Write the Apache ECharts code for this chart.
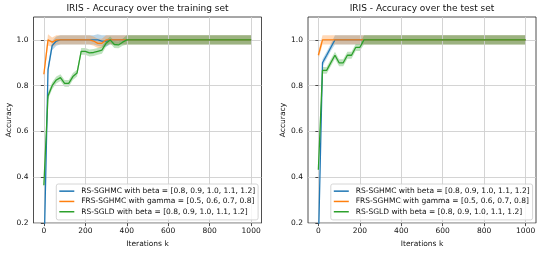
<!DOCTYPE html>
<html>
<head>
<meta charset="utf-8">
<script src="https://cdn.jsdelivr.net/npm/echarts@6/dist/echarts.min.js"></script>
<style>
html,body{margin:0;padding:0;background:#fff;}
#c{width:541px;height:253px;}
</style>
</head>
<body>
<div id="c"></div>
<script>
// ---- data ----
const iters = [0,20,40,60,80,100,120,140,160,180,200,220,240,260,280,300,320,340,360,380,400,420,440,460,480,500,520,540,560,580,600,620,640,660,680,700,720,740,760,780,800,820,840,860,880,900,920,940,960,980,1000];
const xTicks = [0,200,400,600,800,1000];
const yTicks = [0.2,0.4,0.6,0.8,1.0];
const seriesNames = ['RS-SGHMC with beta = [0.8, 0.9, 1.0, 1.1, 1.2]','FRS-SGHMC with gamma = [0.5, 0.6, 0.7, 0.8]','RS-SGLD with beta = [0.8, 0.9, 1.0, 1.1, 1.2]'];
const titles = ['IRIS - Accuracy over the training set','IRIS - Accuracy over the test set'];

// training set
const trainRS = [0.03,0.87,0.975,0.995,1.0,1.0,1.0,1.0,1.0,1.0,1.0,1.0,1.0,1.0,0.995,0.995,1.0,1.0,1.0,1.0,1.0,1.0,1.0,1.0,1.0,1.0,1.0,1.0,1.0,1.0,1.0,1.0,1.0,1.0,1.0,1.0,1.0,1.0,1.0,1.0,1.0,1.0,1.0,1.0,1.0,1.0,1.0,1.0,1.0,1.0,1.0];
const trainRSErr = [0.02,0.02,0.02,0.02,0.02,0.02,0.02,0.02,0.02,0.02,0.02,0.02,0.02,0.025,0.025,0.025,0.02,0.02,0.02,0.02,0.02,0.02,0.02,0.02,0.02,0.02,0.02,0.02,0.02,0.02,0.02,0.02,0.02,0.02,0.02,0.02,0.02,0.02,0.02,0.02,0.02,0.02,0.02,0.02,0.02,0.02,0.02,0.02,0.02,0.02,0.02];
const trainFRS = [0.85,1.0,0.99,1.0,1.0,1.0,1.0,1.0,1.0,1.0,1.0,1.0,0.995,0.985,0.985,1.0,1.0,1.0,1.0,1.0,1.0,1.0,1.0,1.0,1.0,1.0,1.0,1.0,1.0,1.0,1.0,1.0,1.0,1.0,1.0,1.0,1.0,1.0,1.0,1.0,1.0,1.0,1.0,1.0,1.0,1.0,1.0,1.0,1.0,1.0,1.0];
const trainFRSErr = [0.02,0.025,0.02,0.02,0.02,0.02,0.02,0.02,0.02,0.02,0.02,0.02,0.02,0.02,0.02,0.02,0.02,0.02,0.02,0.02,0.02,0.02,0.02,0.02,0.02,0.02,0.02,0.02,0.02,0.02,0.02,0.02,0.02,0.02,0.02,0.02,0.02,0.02,0.02,0.02,0.02,0.02,0.02,0.02,0.02,0.02,0.02,0.02,0.02,0.02,0.02];
const trainSGLD = [0.365,0.755,0.8,0.825,0.835,0.81,0.81,0.84,0.855,0.95,0.95,0.943,0.945,0.95,0.955,0.985,1.0,0.98,0.978,0.99,1.0,1.0,1.0,1.0,1.0,1.0,1.0,1.0,1.0,1.0,1.0,1.0,1.0,1.0,1.0,1.0,1.0,1.0,1.0,1.0,1.0,1.0,1.0,1.0,1.0,1.0,1.0,1.0,1.0,1.0,1.0];
const trainSGLDErr = [0.015,0.015,0.015,0.015,0.015,0.015,0.015,0.015,0.015,0.015,0.015,0.015,0.015,0.015,0.015,0.015,0.015,0.015,0.015,0.015,0.02,0.02,0.02,0.02,0.02,0.02,0.02,0.02,0.02,0.02,0.02,0.02,0.02,0.02,0.02,0.02,0.02,0.02,0.02,0.02,0.02,0.02,0.02,0.02,0.02,0.02,0.02,0.02,0.02,0.02,0.02];

// test set
const testRS = [0.1,0.9,0.933,0.967,1.0,1.0,1.0,1.0,1.0,1.0,1.0,1.0,1.0,1.0,1.0,1.0,1.0,1.0,1.0,1.0,1.0,1.0,1.0,1.0,1.0,1.0,1.0,1.0,1.0,1.0,1.0,1.0,1.0,1.0,1.0,1.0,1.0,1.0,1.0,1.0,1.0,1.0,1.0,1.0,1.0,1.0,1.0,1.0,1.0,1.0,1.0];
const testRSErr = [0.015,0.015,0.015,0.015,0.02,0.02,0.02,0.02,0.02,0.02,0.02,0.02,0.02,0.02,0.02,0.02,0.02,0.02,0.02,0.02,0.02,0.02,0.02,0.02,0.02,0.02,0.02,0.02,0.02,0.02,0.02,0.02,0.02,0.02,0.02,0.02,0.02,0.02,0.02,0.02,0.02,0.02,0.02,0.02,0.02,0.02,0.02,0.02,0.02,0.02,0.02];
const testFRS = [0.933,1.0,1.0,1.0,1.0,1.0,1.0,1.0,1.0,1.0,1.0,1.0,1.0,1.0,1.0,1.0,1.0,1.0,1.0,1.0,1.0,1.0,1.0,1.0,1.0,1.0,1.0,1.0,1.0,1.0,1.0,1.0,1.0,1.0,1.0,1.0,1.0,1.0,1.0,1.0,1.0,1.0,1.0,1.0,1.0,1.0,1.0,1.0,1.0,1.0,1.0];
const testFRSErr = [0.02,0.02,0.02,0.02,0.02,0.02,0.02,0.02,0.02,0.02,0.02,0.02,0.02,0.02,0.02,0.02,0.02,0.02,0.02,0.02,0.02,0.02,0.02,0.02,0.02,0.02,0.02,0.02,0.02,0.02,0.02,0.02,0.02,0.02,0.02,0.02,0.02,0.02,0.02,0.02,0.02,0.02,0.02,0.02,0.02,0.02,0.02,0.02,0.02,0.02,0.02];
const testSGLD = [0.433,0.867,0.867,0.9,0.933,0.9,0.9,0.933,0.933,0.967,0.967,1.0,1.0,1.0,1.0,1.0,1.0,1.0,1.0,1.0,1.0,1.0,1.0,1.0,1.0,1.0,1.0,1.0,1.0,1.0,1.0,1.0,1.0,1.0,1.0,1.0,1.0,1.0,1.0,1.0,1.0,1.0,1.0,1.0,1.0,1.0,1.0,1.0,1.0,1.0,1.0];
const testSGLDErr = [0.015,0.015,0.015,0.015,0.015,0.015,0.015,0.015,0.015,0.015,0.015,0.02,0.02,0.02,0.02,0.02,0.02,0.02,0.02,0.02,0.02,0.02,0.02,0.02,0.02,0.02,0.02,0.02,0.02,0.02,0.02,0.02,0.02,0.02,0.02,0.02,0.02,0.02,0.02,0.02,0.02,0.02,0.02,0.02,0.02,0.02,0.02,0.02,0.02,0.02,0.02];

// ---- styling ----
const FONT = 'DejaVu Sans';
const colors = ['#1f77b4','#ff7f0e','#2ca02c'];
const bandColors = ['rgba(31,119,180,0.3)','rgba(255,127,14,0.3)','rgba(44,160,44,0.3)'];
const panels = [
  {means:[trainRS,trainFRS,trainSGLD], errs:[trainRSErr,trainFRSErr,trainSGLDErr]},
  {means:[testRS,testFRS,testSGLD], errs:[testRSErr,testFRSErr,testSGLDErr]}
];
const grids = [
  {left:33.5, top:17, width:228, height:207},
  {left:308, top:17, width:228, height:207}
];

const series = [];
panels.forEach((p, g) => {
  for (let m = 0; m < 3; m++) {
    const mean = p.means[m], err = p.errs[m];
    series.push({
      type:'custom', xAxisIndex:g, yAxisIndex:g, z:0.5, silent:true, clip:true,
      data: iters.map((x,i)=>[x, mean[i]]),
      renderItem: (params, api) => {
        if (params.dataIndex !== 0) return;
        const pts = [];
        for (let i = 0; i < iters.length; i++) pts.push(api.coord([iters[i], mean[i] + err[i]]));
        for (let i = iters.length - 1; i >= 0; i--) pts.push(api.coord([iters[i], mean[i] - err[i]]));
        return {type:'polygon', shape:{points:pts}, style:{fill:bandColors[m]}};
      }
    });
  }
  for (let m = 0; m < 3; m++) {
    const mean = p.means[m];
    series.push({
      name: seriesNames[m], type:'line', xAxisIndex:g, yAxisIndex:g, z:3+m,
      data: iters.map((x,i)=>[x, mean[i]]),
      showSymbol:false, symbol:'none', clip:true, animation:false,
      lineStyle:{color:colors[m], width:1.3}, itemStyle:{color:colors[m]}
    });
  }
});

const xAxes = grids.map((gr,g)=>({
  type:'value', gridIndex:g, min:-50, max:1050, z:1,
  name:'Iterations k', nameLocation:'middle', nameGap:13,
  nameTextStyle:{fontFamily:FONT, fontSize:7.5, color:'#111'},
  axisLine:{show:false},
  axisTick:{show:true, inside:false, length:3, customValues:xTicks, lineStyle:{color:'#222', width:0.8}},
  axisLabel:{customValues:xTicks, fontFamily:FONT, fontSize:7.5, color:'#111', margin:4, formatter:(v)=>String(Math.round(v))},
  splitLine:{show:true, lineStyle:{color:'#cfcfcf', width:0.9}}
}));
const yAxes = grids.map((gr,g)=>({
  type:'value', gridIndex:g, min:0.2, max:1.1, z:1,
  name:'Accuracy', nameLocation:'middle', nameGap:20, nameRotate:90,
  nameTextStyle:{fontFamily:FONT, fontSize:7.5, color:'#111'},
  axisLine:{show:false},
  axisTick:{show:true, inside:false, length:3, customValues:yTicks, lineStyle:{color:'#222', width:0.8}},
  axisLabel:{customValues:yTicks, fontFamily:FONT, fontSize:7.5, color:'#111', margin:5, formatter:(v)=>v.toFixed(1)},
  splitLine:{show:true, lineStyle:{color:'#cfcfcf', width:0.9}}
}));

const legends = grids.map((gr,g)=>({
  data: seriesNames, orient:'vertical',
  left: gr.left + 22.8, top: 184,
  padding:[2,3,3,3], itemGap:0,
  icon:'rect', itemWidth:15, itemHeight:1.5,
  backgroundColor:'rgba(255,255,255,0.8)', borderColor:'#cccccc', borderWidth:0.8, borderRadius:2,
  textStyle:{fontFamily:FONT, fontSize:7.5, color:'#111', lineHeight:10.3, padding:[0,0,0,2]},
  selectedMode:false
}));

const chart = echarts.init(document.getElementById('c'), null, {renderer:'canvas'});
chart.setOption({
  animation:false,
  backgroundColor:'#fff',
  title: titles.map((t,g)=>({
    text:t, left: grids[g].left + grids[g].width/2, top:4, textAlign:'center', padding:0,
    textStyle:{fontFamily:FONT, fontSize:9, fontWeight:'normal', color:'#111'}
  })),
  grid: grids.map(gr=>Object.assign({show:true, borderColor:'#222', borderWidth:0.8, backgroundColor:'transparent', containLabel:false}, gr)),
  xAxis: xAxes,
  yAxis: yAxes,
  legend: legends,
  series: series
});
</script>
</body>
</html>
